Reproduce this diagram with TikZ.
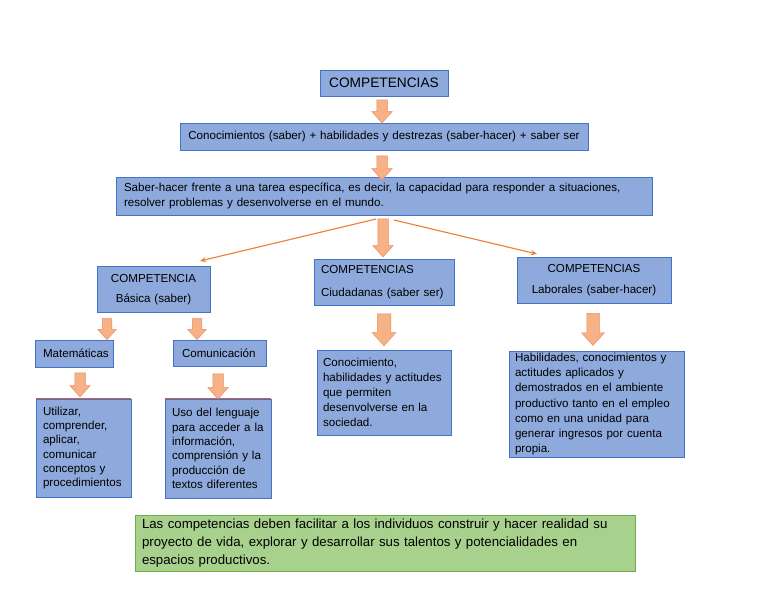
\documentclass[tikz,border=0pt]{standalone}
\usepackage{fontspec}
\setmainfont{Liberation Sans}
\usetikzlibrary{shapes.arrows,arrows.meta}
\definecolor{boxfill}{RGB}{142,169,219}
\definecolor{boxline}{RGB}{68,114,196}
\definecolor{arrfill}{RGB}{245,178,135}
\definecolor{arrline}{RGB}{240,140,90}
\definecolor{gfill}{RGB}{169,209,142}
\definecolor{gline}{RGB}{112,173,71}
\definecolor{thinorange}{RGB}{237,125,49}
\definecolor{topred}{RGB}{205,95,70}
\begin{document}
\begin{tikzpicture}[x=1pt,y=-1pt,
  box/.style={draw=boxline, fill=boxfill, line width=0.9pt, inner ysep=0pt,
    align=left, font=\fontsize{11.6}{15}\selectfont},
  cbox/.style={box, align=center},
  barrow/.style={single arrow, draw=arrline, fill=arrfill, line width=0.5pt,
    rotate=-90, inner xsep=0pt, single arrow tip angle=84, single arrow head indent=0pt},
  thinarrow/.style={draw=thinorange, line width=1.1pt, -{Stealth[length=6pt,width=5pt]}}
]
\fill[white] (0,0) rectangle (768,594);
\useasboundingbox (0,0) rectangle (768,594);

% top chain
\node[cbox, text width=122pt, inner xsep=3pt, minimum height=26pt,
  font=\fontsize{13.7}{16}\selectfont] (comp) at (384,83) {COMPETENCIAS};
\node[cbox, text width=400pt, inner xsep=4pt, minimum height=27pt] (con) at (384,136.5)
  {Conocimientos (saber) + habilidades y destrezas (saber-hacer) + saber ser};
\node[box, text width=520pt, inner xsep=8pt, minimum height=38pt] (sh) at (384,196)
  {Saber-hacer frente a una tarea específica, es decir, la capacidad para responder a situaciones,\\
   resolver problemas y desenvolverse en el mundo.};

% second level
\node[cbox, text width=109pt, inner xsep=2pt, minimum height=46pt,
  font=\fontsize{11.6}{20.5}\selectfont] (bas) at (153.5,289.5) {COMPETENCIA\\Básica (saber)};
\node[box, text width=126pt, inner xsep=7pt, minimum height=46pt,
  font=\fontsize{11.6}{22.5}\selectfont] (ciu) at (384,282) {COMPETENCIAS\\Ciudadanas (saber ser)};
\node[cbox, text width=150pt, inner xsep=2pt, minimum height=46pt,
  font=\fontsize{11.6}{21}\selectfont] (lab) at (594,280) {COMPETENCIAS\\Laborales (saber-hacer)};

% third level
\node[box, text width=62pt, inner xsep=8pt, minimum height=27pt] (mat) at (74,353.5) {Matemáticas};
\node[box, text width=75pt, inner xsep=9pt, minimum height=26pt] (com) at (219.5,353) {Comunicación};

\node[box, text width=81pt, inner xsep=7pt, minimum height=98pt,
  font=\fontsize{11.6}{14.3}\selectfont] (uti) at (83.5,448)
  {Utilizar,\\comprender,\\aplicar,\\comunicar\\conceptos y\\procedimientos};
\node[box, text width=92pt, inner xsep=7pt, minimum height=99pt,
  font=\fontsize{11.6}{14.4}\selectfont] (uso) at (218,448.5)
  {Uso del lenguaje\\para acceder a la\\información,\\comprensión y la\\producción de\\textos diferentes};
\draw[topred, line width=0.9pt] (uti.north west) -- (uti.north east);
\draw[topred, line width=0.9pt] (uso.north west) -- (uso.north east);

\node[box, text width=122pt, inner xsep=6pt, minimum height=85pt] (conoc) at (384,392.5)
  {Conocimiento,\\habilidades y actitudes\\que permiten\\desenvolverse en la\\sociedad.};
\node[box, text width=163pt, inner xsep=6pt, minimum height=106pt,
  font=\fontsize{11.6}{15.2}\selectfont] (hab) at (596.5,404)
  {Habilidades, conocimientos y\\actitudes aplicados y\\demostrados en el ambiente\\productivo tanto en el empleo\\como en una unidad para\\generar ingresos por cuenta\\propia.};

% green conclusion
\node[box, draw=gline, fill=gfill, text width=486pt, inner xsep=7pt, minimum height=56pt,
  font=\fontsize{13.25}{18}\selectfont] (gr) at (385,543)
  {Las competencias deben facilitar a los individuos construir y hacer realidad su\\
   proyecto de vida, explorar y desarrollar sus talentos y potencialidades en\\
   espacios productivos.};

% block arrows
\node[barrow, minimum height=23pt, inner ysep=5pt, single arrow head extend=5pt] (a1) at (382,108.5) {};
\node[barrow, minimum height=24pt, inner ysep=5pt, single arrow head extend=5pt] (a2) at (382,165) {};
\node[barrow, minimum height=38pt, inner ysep=5pt, single arrow head extend=5pt] (a3) at (383,235) {};
\node[barrow, minimum height=21pt, inner ysep=4.5pt, single arrow head extend=4.5pt] (a4) at (107,326.5) {};
\node[barrow, minimum height=21pt, inner ysep=4.5pt, single arrow head extend=4.5pt] (a5) at (197,326.5) {};
\node[barrow, minimum height=24pt, inner ysep=5pt, single arrow head extend=5pt] (a6) at (80,382) {};
\node[barrow, minimum height=25pt, inner ysep=5pt, single arrow head extend=5pt] (a7) at (218,383.5) {};
\node[barrow, minimum height=32pt, inner ysep=6.5pt, single arrow head extend=5pt] (a8) at (384,326) {};
\node[barrow, minimum height=32pt, inner ysep=6pt, single arrow head extend=5pt] (a9) at (593,326) {};

% thin arrows
\coordinate (l1) at (376,219);
\coordinate (l2) at (200,261);
\coordinate (r1) at (394,220);
\coordinate (r2) at (537,254);
\draw[thinarrow] (l1) -- (l2);
\draw[thinarrow] (r1) -- (r2);
\end{tikzpicture}
\end{document}
